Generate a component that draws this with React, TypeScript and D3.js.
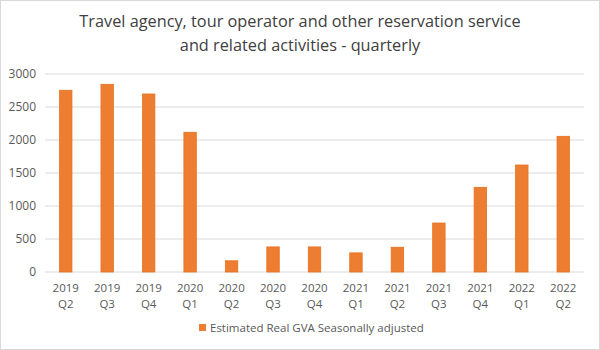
import React, { useEffect, useRef } from 'react'
import { select, scaleBand, scaleLinear } from 'd3'

const years = ['2019', '2019', '2019', '2020', '2020', '2020', '2020', '2021', '2021', '2021', '2021', '2022', '2022']
const quarters = ['Q2', 'Q3', 'Q4', 'Q1', 'Q2', 'Q3', 'Q4', 'Q1', 'Q2', 'Q3', 'Q4', 'Q1', 'Q2']
const gva = [2753, 2844, 2697, 2117, 170, 380, 380, 290, 375, 742, 1283, 1621, 2056]
const yTicks = [0, 500, 1000, 1500, 2000, 2500, 3000]
const seriesName = 'Estimated Real GVA Seasonally adjusted'

const W = 600
const H = 350
const FONT = '"Open Sans", "Liberation Sans", sans-serif'

const App = () => {
  const svgRef = useRef<SVGSVGElement>(null)

  useEffect(() => {
    const svg = select(svgRef.current)
    svg.selectAll('*').remove()

    const left = 45, right = 584, top = 74, bottom = 272
    const keys = gva.map((_, i) => String(i))

    const x = scaleBand().domain(keys).range([left, right]).paddingInner(0.7).paddingOuter(0.35)
    const y = scaleLinear().domain([0, 3000]).range([bottom, top])

    svg.append('rect')
      .attr('x', 0.5).attr('y', 0.5)
      .attr('width', W - 1).attr('height', H - 1)
      .attr('fill', '#fff').attr('stroke', '#d9d9d9')

    // title, two lines
    svg.selectAll('.title')
      .data(['Travel agency, tour operator and other reservation service', 'and related activities - quarterly'])
      .join('text')
      .attr('x', 300)
      .attr('y', (_, i) => 27 + i * 24)
      .attr('text-anchor', 'middle')
      .attr('fill', '#404040')
      .attr('font-family', FONT)
      .attr('font-size', 16.3)
      .text(d => d)

    // grid + y labels
    svg.selectAll('.grid')
      .data(yTicks)
      .join('line')
      .attr('x1', left).attr('x2', right)
      .attr('y1', d => y(d)).attr('y2', d => y(d))
      .attr('stroke', '#d9d9d9').attr('stroke-width', 1)

    svg.selectAll('.ylab')
      .data(yTicks)
      .join('text')
      .attr('x', 36)
      .attr('y', d => y(d) + 4)
      .attr('text-anchor', 'end')
      .attr('fill', '#595959')
      .attr('font-family', FONT)
      .attr('font-size', 12)
      .text(d => d)

    // bars
    svg.selectAll('.bar')
      .data(gva)
      .join('rect')
      .attr('x', (_, i) => x(String(i)))
      .attr('width', x.bandwidth())
      .attr('y', d => y(d))
      .attr('height', d => bottom - y(d))
      .attr('fill', '#ed7d31')
      .attr('stroke', '#e8701f')
      .attr('stroke-width', 0.8)

    // x labels: year line, quarter line
    const cx = (i: number) => x(String(i)) + x.bandwidth() / 2
    svg.selectAll('.xyear')
      .data(years)
      .join('text')
      .attr('x', (_, i) => cx(i))
      .attr('y', 292)
      .attr('text-anchor', 'middle')
      .attr('fill', '#595959')
      .attr('font-family', FONT)
      .attr('font-size', 11.5)
      .text(d => d)
    svg.selectAll('.xq')
      .data(quarters)
      .join('text')
      .attr('x', (_, i) => cx(i))
      .attr('y', 308)
      .attr('text-anchor', 'middle')
      .attr('fill', '#595959')
      .attr('font-family', FONT)
      .attr('font-size', 11.5)
      .text(d => d)

    // legend
    svg.append('rect')
      .attr('x', 199).attr('y', 324)
      .attr('width', 7).attr('height', 7)
      .attr('fill', '#ed7d31')
    svg.append('text')
      .attr('x', 210).attr('y', 332)
      .attr('fill', '#595959')
      .attr('font-family', FONT)
      .attr('font-size', 11.5)
      .text(seriesName)
  }, [])

  return (
    <svg ref={svgRef} width={W} height={H} style={{ position: 'absolute', left: 0, top: 0 }} />
  )
}

export default App
